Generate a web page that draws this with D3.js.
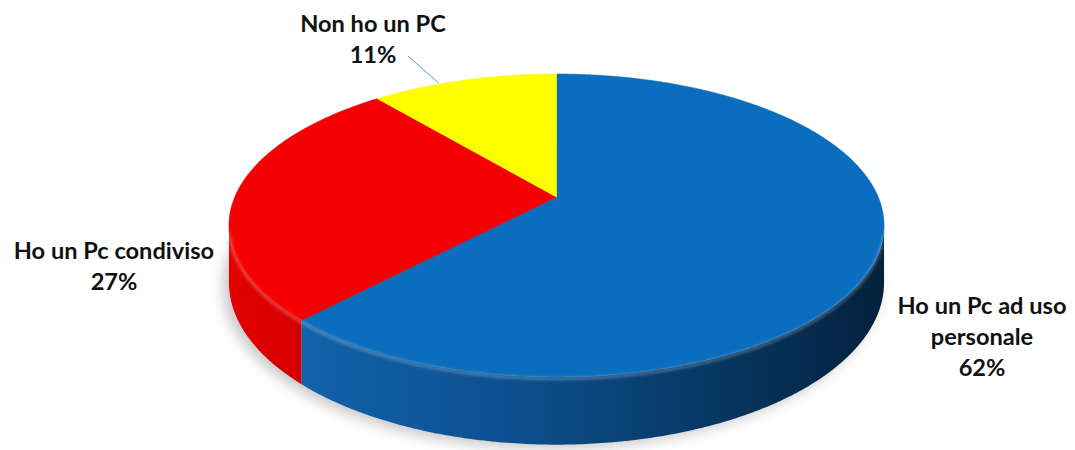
<!DOCTYPE html>
<html>
<head>
<meta charset="utf-8">
<script src="https://cdn.jsdelivr.net/npm/d3@7"></script>
<style>
  body { margin: 0; background: #fff; }
  svg { display: block; }
  text { font-family: Lato, "Open Sans", sans-serif; font-weight: 700; fill: #111; }
</style>
</head>
<body>
<div id="grafico"></div>
<script>
// dati
const categorie   = ["Ho un Pc ad uso personale", "Ho un Pc condiviso", "Non ho un PC"];
const percentuali = [62, 27, 11];
const righe_etichetta = [["Ho un Pc ad uso", "personale"], ["Ho un Pc condiviso"], ["Non ho un PC"]];

/*--- stile ---*/
const colori_top  = ["#0a6dbe", "#f40000", "#ffff00"];
const colori_lato = ["url(#latoBlu)", "url(#latoRosso)", "#d8d800"];

let width = 1075, height = 450;

// proiezione prospettica del disco
const cx = 556.5, cy = 197;
const A = 321.7, B = 146.1, k = 0.188, H = 55;

function punto(theta, h) {
    let u = Math.sin(theta), v = -Math.cos(theta);
    let s = 1 / (1 - k * v);
    return [cx + A * u * s, cy + (B * v + h) * s];
}

function arco(a0, a1, h) {
    let n = Math.max(2, Math.ceil(Math.abs(a1 - a0) / 0.01));
    return d3.range(n + 1).map(i => punto(a0 + (a1 - a0) * i / n, h));
}

let svg = d3.select("#grafico").append("svg")
    .attr("width", width).attr("height", height);

let defs = svg.append("defs");

let gBlu = defs.append("linearGradient").attr("id", "latoBlu")
    .attr("gradientUnits", "userSpaceOnUse")
    .attr("x1", 229).attr("x2", 884).attr("y1", 0).attr("y2", 0);
[[0, "#1668b6"], [0.15, "#1260a8"], [0.45, "#0b4f8c"], [0.7, "#073a68"], [1, "#04213d"]]
    .forEach(d => gBlu.append("stop").attr("offset", d[0]).attr("stop-color", d[1]));

let gRosso = defs.append("linearGradient").attr("id", "latoRosso")
    .attr("gradientUnits", "userSpaceOnUse")
    .attr("x1", 229).attr("x2", 320).attr("y1", 0).attr("y2", 0);
[[0, "#e40000"], [1, "#cf0000"]]
    .forEach(d => gRosso.append("stop").attr("offset", d[0]).attr("stop-color", d[1]));

defs.append("filter").attr("id", "sfoca").attr("x", "-20%").attr("y", "-20%")
    .attr("width", "140%").attr("height", "140%")
    .append("feGaussianBlur").attr("stdDeviation", 7);

defs.append("filter").attr("id", "sfoca2")
    .append("feGaussianBlur").attr("stdDeviation", 1.5);

let linea = d3.line();

let pie = d3.pie().sort(null).value(d => d)(percentuali);

/*--- ombra ---*/
let giro = arco(0, 2 * Math.PI, H);
svg.append("path")
    .attr("d", linea(giro.map(p => [p[0] - 6, p[1] + 4])) + "Z")
    .attr("fill", "#000")
    .attr("opacity", 0.22)
    .attr("filter", "url(#sfoca)");

/*--- lati ---*/
const visL = Math.acos(-k), visR = 2 * Math.PI - Math.acos(-k);
pie.forEach((d, i) => {
    let a0 = Math.max(d.startAngle, visL), a1 = Math.min(d.endAngle, visR);
    if (a1 <= a0) return;
    let pts = arco(a0, a1, 0).concat(arco(a1, a0, H));
    svg.append("path")
        .attr("d", linea(pts) + "Z")
        .attr("fill", colori_lato[i]);
});

/*--- facce superiori ---*/
pie.forEach((d, i) => {
    let pts = [[cx, cy]].concat(arco(d.startAngle, d.endAngle, 0));
    svg.append("path")
        .attr("d", linea(pts) + "Z")
        .attr("fill", colori_top[i])
        .attr("stroke", colori_top[i])
        .attr("stroke-width", 0.6);
});

// riflesso sul bordo frontale
svg.append("path")
    .attr("d", linea(arco(visL + 0.05, visR - 0.05, 1.5)))
    .attr("fill", "none")
    .attr("stroke", "#fff")
    .attr("stroke-opacity", 0.3)
    .attr("stroke-width", 2.5)
    .attr("filter", "url(#sfoca2)");

/*--- etichette ---*/
const pos_etichette = [[982, 314], [114, 259], [373, 32]];
const interlinea = 31;

pie.forEach((d, i) => {
    let t = svg.append("text")
        .attr("text-anchor", "middle")
        .style("font-size", "23.6px")
        .attr("x", pos_etichette[i][0])
        .attr("y", pos_etichette[i][1]);
    righe_etichetta[i].concat([percentuali[i] + "%"]).forEach((r, j) => {
        t.append("tspan")
            .attr("x", pos_etichette[i][0])
            .attr("dy", j === 0 ? 0 : interlinea)
            .text(r);
    });
});

// linea guida per la fetta piccola
let aGuida = pie[2].startAngle + 0.36 * (pie[2].endAngle - pie[2].startAngle);
let pBordo = punto(aGuida, 0);
svg.append("line")
    .attr("x1", 408).attr("y1", 56)
    .attr("x2", pBordo[0]).attr("y2", pBordo[1] - 1)
    .attr("stroke", "#5b9bd5")
    .attr("stroke-width", 1);
</script>
</body>
</html>
